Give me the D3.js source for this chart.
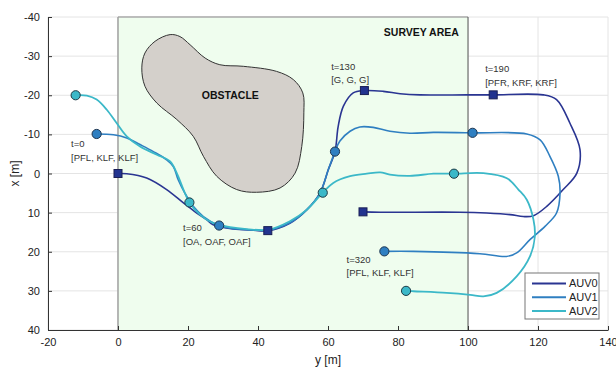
<!DOCTYPE html>
<html>
<head>
<meta charset="utf-8">
<script src="https://cdn.jsdelivr.net/npm/d3@7"></script>
<style>
  body { margin: 0; background: #fff; }
  text { font-family: "Liberation Sans", Arial, sans-serif; }
</style>
</head>
<body>
<div id="chart"></div>
<script>
// axis ticks
var yTicks = [-20, 0, 20, 40, 60, 80, 100, 120, 140]
var xTicks = [-40, -30, -20, -10, 0, 10, 20, 30, 40]

// survey area [y0, y1]
var surveyArea = [0, 100]

// obstacle outline, [y, x]
var obstacle = [
  [14.9, -35.5], [10.6, -33.8], [7.7, -30.8], [6.8, -27.0], [7.7, -22.3], [11.1, -18.0],
  [16.8, -13.8], [21.5, -9.5], [24.4, -4.4], [28.2, 0.7], [33.9, 4.1], [39.6, 4.8],
  [46.3, 3.7], [50.6, -0.1], [52.5, -6.9], [53.1, -15.5], [52.8, -20.6], [50.1, -24.0],
  [45.3, -26.1], [35.8, -27.4], [29.1, -27.8], [24.9, -29.5], [20.6, -32.9], [17.7, -35.0]
]

var names = ["AUV0", "AUV1", "AUV2"]

// trajectories [y, x]
var auv0 = [
  [0, 0], [2.5, 0.05], [8.2, 1.15], [13.9, 4.1], [18.7, 7.5], [22.5, 10.1], [25.3, 11.8],
  [27.2, 13.1], [32.9, 14.2], [38.7, 14.5], [42.8, 14.6], [49.1, 12.7], [53.9, 9.3],
  [57.7, 5.0], [60.1, -1.0], [62.0, -5.6], [62.9, -12.0], [64.4, -17.2], [67.2, -20.6],
  [70.4, -21.2], [75.8, -21.0], [80.6, -20.4], [86.3, -20.1], [99.6, -20.1], [107.2, -20.1],
  [121.5, -20.1], [125.3, -18.9], [129.1, -12.9], [132.0, -6.1], [131.1, -0.1], [127.2, 4.1],
  [122.5, 8.4], [118.7, 10.8], [115.8, 11.0], [112.0, 10.5], [105.3, 10.1], [97.7, 9.9],
  [74.9, 9.9], [70, 9.8]
]
var auv1 = [
  [-6.1, -10.1], [-1.3, -9.9], [2.5, -9.1], [6.3, -7.4], [10.1, -5.6], [13.9, -3.5],
  [15.8, -1.8], [17.2, 1.6], [19.1, 5.0], [21.5, 8.4], [24.4, 11.0], [28.9, 13.3],
  [32.9, 14.1], [38.7, 14.4], [42.8, 14.5], [49.1, 12.6], [53.9, 9.3], [57.7, 5.0],
  [60.1, -1.0], [62.0, -5.6], [63.4, -8.3], [66.3, -10.8], [69.1, -11.9], [72.9, -11.8],
  [77.7, -10.8], [83.4, -10.3], [90.1, -10.5], [101.3, -10.4], [116.8, -10.1], [120.6, -8.6],
  [123.4, -4.4], [125.8, 0.7], [126.3, 5.0], [125.3, 10.1], [122.0, 13.5], [117.7, 16.9],
  [113.9, 20.3], [111.0, 21.2], [103.4, 20.5], [84.4, 19.9], [76.1, 19.9]
]
var auv2 = [
  [-12.1, -20.0], [-8.9, -19.9], [-6.1, -18.9], [-3.2, -16.3], [-0.4, -12.9], [2.5, -9.5],
  [6.3, -6.9], [11.1, -4.8], [14.9, -3.1], [16.8, -0.1], [18.7, 4.1], [20.4, 7.4],
  [23.4, 10.5], [27.2, 12.7], [32.0, 13.7], [36.8, 14.2], [42.8, 14.4], [49.1, 12.2],
  [53.9, 9.3], [58.5, 4.9], [61.5, 2.4], [66.3, 0.7], [71.1, 0.05], [74.9, -0.3],
  [77.7, 0.3], [83.4, 0.6], [90.1, 0.05], [96.0, 0.05], [104.4, -0.1], [111.1, 1.2],
  [114.4, 4.1], [116.8, 6.7], [118.7, 11.8], [119.1, 16.1], [117.7, 21.2], [113.9, 26.3],
  [108.2, 30.5], [104.4, 31.4], [100.6, 31.0], [93.9, 30.5], [84.4, 30.1], [82.3, 30.0]
]

// markers at t = 0, 60, 130, 190, 320
var markers0 = [[0, 0], [42.8, 14.6], [70.4, -21.2], [107.2, -20.1], [70, 9.8]]
var markers1 = [[-6.1, -10.1], [28.9, 13.3], [62.0, -5.6], [101.3, -10.4], [76.1, 19.9]]
var markers2 = [[-12.1, -20.0], [20.4, 7.4], [58.5, 4.9], [96.0, 0.05], [82.3, 30.0]]

// annotations
var labelTimes = ["t=0", "t=60", "t=130", "t=190", "t=320"]
var labelModes = ["[PFL, KLF, KLF]", "[OA, OAF, OAF]", "[G, G, G]", "[PFR, KRF, KRF]", "[PFL, KLF, KLF]"]
var labelAt = [[-13.4, -7.6], [18.6, 13.9], [60.9, -27.4], [104.9, -26.7], [65.3, 21.9]]

var colors = ["#2a3592", "#2f7fc1", "#3bb8c8"]

var width = 616, height = 367
var margin = { left: 48, right: 8, top: 17, bottom: 37 }

var svg = d3.select("#chart").append("svg")
  .attr("width", width)
  .attr("height", height)

var x = d3.scaleLinear().domain([-20, 140]).range([margin.left, width - margin.right])
var y = d3.scaleLinear().domain([-40, 40]).range([margin.top, height - margin.bottom])

// grid
svg.append("g").selectAll("line").data(yTicks).enter().append("line")
  .attr("x1", d => x(d)).attr("x2", d => x(d))
  .attr("y1", y(-40)).attr("y2", y(40))
  .attr("stroke", "#e4e4e4").attr("stroke-width", 1)
svg.append("g").selectAll("line").data(xTicks).enter().append("line")
  .attr("x1", x(-20)).attr("x2", x(140))
  .attr("y1", d => y(d)).attr("y2", d => y(d))
  .attr("stroke", "#e4e4e4").attr("stroke-width", 1)

// survey area
svg.append("rect")
  .attr("x", x(surveyArea[0])).attr("y", y(-40))
  .attr("width", x(surveyArea[1]) - x(surveyArea[0]))
  .attr("height", y(40) - y(-40))
  .attr("fill", "#effdee")
svg.append("line")
  .attr("x1", x(surveyArea[0])).attr("x2", x(surveyArea[1]))
  .attr("y1", y(-40)).attr("y2", y(-40))
  .attr("stroke", "#aaa").attr("stroke-width", 1.5)
svg.append("line")
  .attr("x1", x(surveyArea[0])).attr("x2", x(surveyArea[0]))
  .attr("y1", y(-40)).attr("y2", y(40))
  .attr("stroke", "#a0a0a0").attr("stroke-width", 1.5)
svg.append("line")
  .attr("x1", x(surveyArea[1])).attr("x2", x(surveyArea[1]))
  .attr("y1", y(-40)).attr("y2", y(40))
  .attr("stroke", "#555").attr("stroke-width", 1)

svg.append("text")
  .attr("x", x(97.4)).attr("y", y(-36)).attr("dy", "0.35em")
  .attr("text-anchor", "end")
  .style("font-size", "10.5px").style("font-weight", "bold").attr("fill", "#111")
  .text("SURVEY AREA")

// obstacle
svg.append("path")
  .datum(obstacle)
  .attr("d", d3.line().x(d => x(d[0])).y(d => y(d[1])).curve(d3.curveCatmullRomClosed.alpha(0.5)))
  .attr("fill", "#d4d0cb")
  .attr("stroke", "#333").attr("stroke-width", 1)
svg.append("text")
  .attr("x", x(32.1)).attr("y", y(-20.1)).attr("dy", "0.35em")
  .attr("text-anchor", "middle")
  .style("font-size", "10.5px").style("font-weight", "bold").attr("fill", "#111")
  .text("OBSTACLE")

// axes
var fmt = d => String(d)
var xAxis = d3.axisBottom(x).tickValues(yTicks).tickFormat(fmt).tickSizeInner(-4).tickSizeOuter(0).tickPadding(8)
var yAxis = d3.axisLeft(y).tickValues(xTicks).tickFormat(fmt).tickSizeInner(-4).tickSizeOuter(0).tickPadding(8)
var gx = svg.append("g").attr("transform", "translate(0," + y(40) + ")").call(xAxis)
var gy = svg.append("g").attr("transform", "translate(" + x(-20) + ",0)").call(yAxis)
;[gx, gy].forEach(function (g) {
  g.select(".domain").attr("stroke", "#333").attr("stroke-width", 1)
  g.selectAll(".tick line").attr("stroke", "#333")
  g.selectAll(".tick text").style("font-size", "11px").attr("fill", "#222")
    .style("font-family", "'Liberation Sans', Arial, sans-serif")
})

svg.append("text")
  .attr("x", (x(-20) + x(140)) / 2).attr("y", 360).attr("dy", "0.35em")
  .attr("text-anchor", "middle").style("font-size", "12px").attr("fill", "#222")
  .text("y [m]")
svg.append("text")
  .attr("transform", "translate(15," + y(0) + ") rotate(-90)")
  .attr("dy", "0.35em")
  .attr("text-anchor", "middle").style("font-size", "12px").attr("fill", "#222")
  .text("x [m]")

// trajectories
var line = d3.line().x(d => x(d[0])).y(d => y(d[1])).curve(d3.curveCatmullRom.alpha(0.5))
var paths = [auv0, auv1, auv2]
paths.forEach(function (p, i) {
  svg.append("path").datum(p)
    .attr("d", line)
    .attr("fill", "none")
    .attr("stroke", colors[i])
    .attr("stroke-width", i == 2 ? 1.8 : 1.6)
})

// markers
svg.append("g").selectAll("circle").data(markers1).enter().append("circle")
  .attr("cx", d => x(d[0])).attr("cy", d => y(d[1])).attr("r", 4.6)
  .attr("fill", colors[1]).attr("stroke", "#1d3550").attr("stroke-width", 1)
svg.append("g").selectAll("circle").data(markers2).enter().append("circle")
  .attr("cx", d => x(d[0])).attr("cy", d => y(d[1])).attr("r", 4.6)
  .attr("fill", colors[2]).attr("stroke", "#1d3a45").attr("stroke-width", 1)
svg.append("g").selectAll("rect").data(markers0).enter().append("rect")
  .attr("x", d => x(d[0]) - 4).attr("y", d => y(d[1]) - 4)
  .attr("width", 8).attr("height", 8)
  .attr("fill", "#22338f").attr("stroke", "#1a1f55").attr("stroke-width", 1)

// annotations
labelAt.forEach(function (p, i) {
  var t = svg.append("text")
    .attr("x", x(p[0])).attr("y", y(p[1]))
    .style("font-size", "9.5px").attr("fill", "#333")
  t.append("tspan").attr("x", x(p[0])).attr("dy", "0.35em").text(labelTimes[i])
  t.append("tspan").attr("x", x(p[0])).attr("dy", "1.45em").text(labelModes[i])
})

// legend
var legend = svg.append("g").attr("transform", "translate(525,273)")
legend.append("rect")
  .attr("width", 74).attr("height", 46)
  .attr("fill", "#fff").attr("stroke", "#777").attr("stroke-width", 1)
names.forEach(function (n, i) {
  var yy = 10.5 + i * 13.8
  legend.append("line")
    .attr("x1", 7).attr("x2", 41).attr("y1", yy).attr("y2", yy)
    .attr("stroke", colors[i]).attr("stroke-width", 2)
  legend.append("text")
    .attr("x", 44).attr("y", yy).attr("dy", "0.35em")
    .style("font-size", "11px").attr("fill", "#222")
    .text(n)
})
</script>
</body>
</html>
